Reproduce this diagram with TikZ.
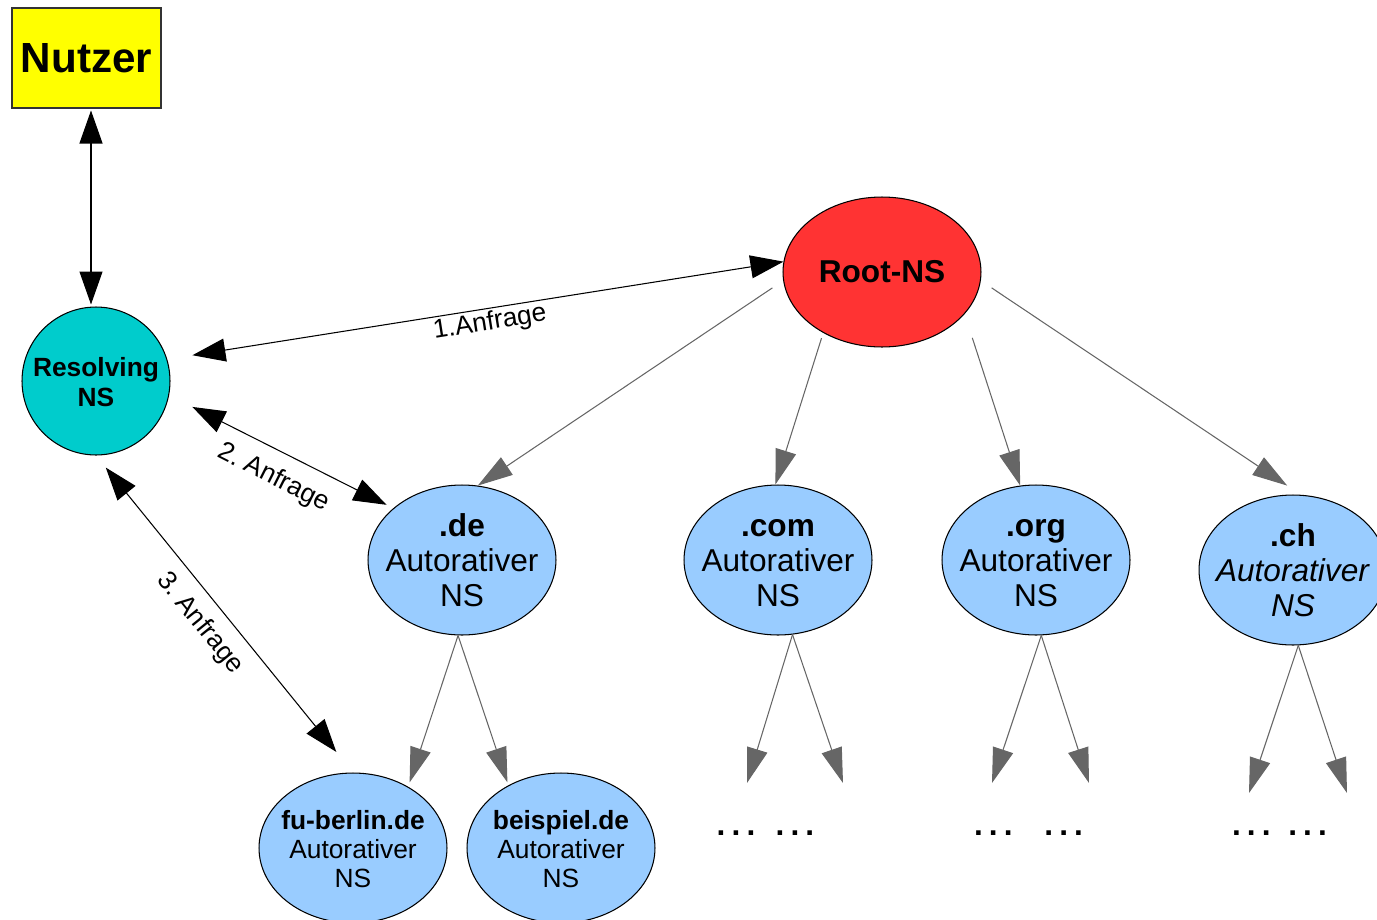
\documentclass[tikz,border=0pt]{standalone}
\usepackage{fontspec}
\setmainfont{Liberation Sans}
\usepackage{xcolor}
\usepackage{tikz}
\usetikzlibrary{
    positioning,
    arrows.meta,
    shapes.geometric,
    calc
}
\frenchspacing

\definecolor{userfill}{HTML}{FFFF00}
\definecolor{resolverfill}{HTML}{00CCCC}
\definecolor{rootfill}{HTML}{FF3333}
\definecolor{nsfill}{HTML}{99CCFF}
\definecolor{treegray}{HTML}{666666}

% multi-line text that does not widen the ellipse
\newcommand{\nstext}[1]{\makebox[0pt]{\raisebox{-2.5pt}[\height][\depth]{\begin{tabular}{@{}c@{}}#1\end{tabular}}}}
\newcommand{\threedots}{.\hspace{3.5pt}.\hspace{3.5pt}.}

\tikzset{
    nsnode/.style={
        shape=ellipse,
        draw, line width=0.6pt,
        inner sep=0pt,
        minimum width=3.76cm,
        minimum height=3cm
    },
    nsblue/.style={
        fill=nsfill
    },
    biarrow/.style={
        arrows={Triangle[length=0.66cm, width=0.46cm]-Triangle[length=0.66cm, width=0.46cm]},
        line width=0.6pt, draw=black
    },
    treearrow/.style={
        arrows={-Triangle[length=0.7cm, width=0.42cm]},
        line width=0.6pt, draw=treegray
    }
}

\begin{document}
\begin{tikzpicture}[
        x=0.02cm, y=-0.02cm,
        userbox/.style={rectangle, draw=black!80, line width=0.6pt, fill=userfill, inner sep=0pt, minimum width=2.98cm, minimum height=2cm, font=\bfseries\fontsize{24}{28}\selectfont},
        resolver/.style={circle, draw, line width=0.6pt, fill=resolverfill, inner sep=0pt, minimum size=2.96cm, font=\bfseries\fontsize{15}{17}\selectfont},
        rootns/.style={nsnode, minimum width=3.96cm, fill=rootfill, font=\bfseries\fontsize{18}{20}\selectfont},
        tld/.style={nsnode, nsblue, font=\fontsize{18}{20}\selectfont},
        sld/.style={nsnode, nsblue, font=\fontsize{15}{16.5}\selectfont},
        dotrow/.style={anchor=base, inner sep=0pt, font=\bfseries\fontsize{18}{20}\selectfont},
        query_label/.style={sloped, below, inner xsep=0pt, font=\fontsize{15}{17}\selectfont}
    ]
    \useasboundingbox (0,0) rectangle (1377,920);

    % USER & RESOLVER
    \node[userbox] (nutzer) at (86.5,58) {Nutzer};
    \node[resolver] (resolving) at (96,381) {\nstext{Resolving\\NS}};

    % ROOT
    \node[rootns] (root_ns) at (882,272) {Root-NS};

    % TOP LEVEL DOMAINS
    \node[tld] (de_ns) at (462,560) {\nstext{\textbf{.de}\\Autorativer\\NS}};
    \node[tld] (com_ns) at (778,560) {\nstext{\textbf{.com}\\Autorativer\\NS}};
    \node[tld] (org_ns) at (1036,560) {\nstext{\textbf{.org}\\Autorativer\\NS}};
    \node[tld] (ch_ns) at (1293,570) {\nstext{\textbf{.ch}\\\textit{Autorativer}\\\textit{NS}}};

    % SECOND LEVEL DOMAINS
    \node[sld] (fu_ns) at (353,848) {\nstext{\textbf{fu-berlin.de}\\Autorativer\\NS}};
    \node[sld] (bsp_ns) at (561,848) {\nstext{\textbf{beispiel.de}\\Autorativer\\NS}};

    % Further subdomains
    \node[dotrow] (com_more) at (765.5,835) {\threedots\hspace{11.5pt}\threedots};
    \node[dotrow] (org_more) at (1028.5,835) {\threedots\hspace{18pt}\threedots};
    \node[dotrow] (ch_more) at (1279.5,835) {\threedots\hspace{10pt}\threedots};
    \coordinate (com_l) at (747,783);
    \coordinate (com_r) at (843,783);
    \coordinate (org_l) at (992,783);
    \coordinate (org_r) at (1089,783);
    \coordinate (ch_l) at (1249,793);
    \coordinate (ch_r) at (1347,793);

    % Connections
    % User <-> Resolver
    \draw[biarrow, shorten <=0.04cm, shorten >=0.04cm] ([xshift=0.09cm]nutzer.south) -- ([xshift=0.09cm]nutzer.south |- resolving.north);

    % Queries
    \draw[biarrow, shorten <=0.51cm] (resolving.17) -- node[query_label, pos=0.52, inner ysep=1pt] {1.Anfrage} (root_ns.174);
    \draw[biarrow, shorten <=0.52cm, shorten >=0.15cm] (resolving.-11) -- node[query_label, pos=0.52, inner ysep=8pt] {2. Anfrage} (de_ns.143);
    \draw[biarrow, shorten <=0.31cm, shorten >=0.53cm] (resolving.south) -- node[query_label, pos=0.48, inner ysep=7pt] {3. Anfrage} (fu_ns.north);

    % Root -> TLDs
    \draw[treearrow, shorten <=0.26cm] (root_ns.-175) -- (de_ns.78);
    \draw[treearrow, shorten <=0.11cm] (root_ns.-134) -- (com_ns.92);
    \draw[treearrow, shorten <=0.5cm] (root_ns.-27) -- (org_ns.102);
    \draw[treearrow, shorten <=0.26cm, shorten >=0.33cm] (root_ns.-5) -- (ch_ns.84);

    % TLDs -> SLDs
    \draw[treearrow, shorten >=0.09cm] (de_ns.-93) -- (fu_ns.48);
    \draw[treearrow, shorten >=0.06cm] (de_ns.-93) -- (bsp_ns.130);
    \draw[treearrow] (com_ns.-79) -- (com_l);
    \draw[treearrow] (com_ns.-79) -- (com_r);
    \draw[treearrow] (org_ns.-86) -- (org_l);
    \draw[treearrow] (org_ns.-86) -- (org_r);
    \draw[treearrow] (ch_ns.-86) -- (ch_l);
    \draw[treearrow] (ch_ns.-86) -- (ch_r);

\end{tikzpicture}
\end{document}
